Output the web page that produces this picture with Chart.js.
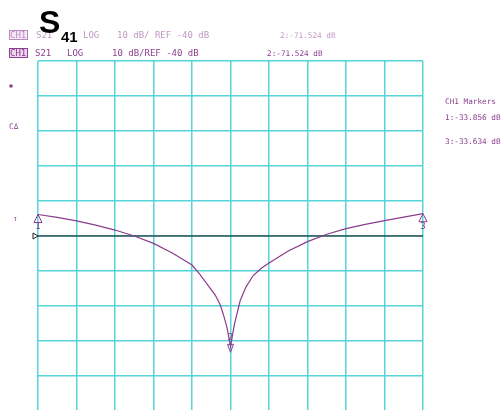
<!DOCTYPE html>
<html>
<head>
<meta charset="utf-8">
<script src="https://cdn.jsdelivr.net/npm/chart.js@4/dist/chart.umd.min.js"></script>
<style>
  html, body { margin: 0; padding: 0; background: #fff; overflow: hidden; }
  canvas { display: block; }
</style>
</head>
<body>
<canvas id="s41" width="501" height="420"></canvas>
<script>
// trace S21, 10 dB/div, REF -40 dB, x in graticule divisions
const sweepDiv = [0, 0.5, 1, 1.5, 2, 2.5, 3, 3.5, 4, 4.2, 4.45, 4.6, 4.73, 4.82, 4.91, 5, 5.1, 5.25, 5.4, 5.59, 5.8, 6, 6.5, 7, 7.5, 8, 8.5, 9, 9.5, 10];
const traceDb = [-33.86, -34.7, -35.7, -36.9, -38.3, -40.0, -42.1, -44.9, -48.3, -50.9, -54.6, -56.8, -59.6, -62.6, -66.2, -71.52, -65.3, -58.5, -54.6, -51.3, -49.2, -47.7, -44.3, -41.6, -39.5, -37.9, -36.7, -35.6, -34.6, -33.63];

const markerNums = ["1", "2", "3"];
const markerDiv = [0, 5, 10];
const markerDb = [-33.856, -71.524, -33.634];

const refLevel = -40;
const dbPerDiv = 10;
const yTop = 10;
const yBottom = -90;

const purple = "#8a3c8c";
const textPurple = "#8d3f8f";
const gridCyan = "#55d4da";

const ctx = document.getElementById("s41").getContext("2d");

// markers + annotation text
const analyzerText = {
    id: "analyzerText",
    afterDatasetsDraw(chart) {
        const c = chart.ctx;
        const xs = chart.scales.x, ys = chart.scales.y;
        c.save();
        c.strokeStyle = purple;
        c.fillStyle = purple;
        c.lineWidth = 1;
        c.font = "9px 'DejaVu Sans Mono'";
        c.textAlign = "center";
        c.textBaseline = "top";
        markerDiv.forEach((d, i) => {
            const px = xs.getPixelForValue(d);
            const py = ys.getPixelForValue(markerDb[i]);
            c.beginPath();
            if (i === 1) {
                // centre marker points down below the notch
                c.moveTo(px - 3, py - 2);
                c.lineTo(px + 3, py - 2);
                c.lineTo(px, py + 6);
            } else {
                c.moveTo(px, py);
                c.lineTo(px - 4, py + 8);
                c.lineTo(px + 4, py + 8);
            }
            c.closePath();
            c.stroke();
            c.fillText(markerNums[i], px, i === 1 ? py - 13 : py + 8);
        });
        // reference position marker
        const ry = ys.getPixelForValue(refLevel);
        const lx = xs.getPixelForValue(0);
        c.strokeStyle = "#222";
        c.beginPath();
        c.moveTo(lx - 5, ry - 3);
        c.lineTo(lx - 5, ry + 3);
        c.lineTo(lx, ry);
        c.closePath();
        c.stroke();
        c.restore();
    },
    afterDraw(chart) {
        const c = chart.ctx;
        c.save();
        c.textAlign = "left";
        c.textBaseline = "alphabetic";
        const mono9 = "9px 'DejaVu Sans Mono'";
        const mono8 = "7.7px 'DejaVu Sans Mono'";
        c.font = mono9;

        const chBox = (x, y, alpha) => {
            c.globalAlpha = alpha;
            c.fillStyle = "#ecd4ec";
            c.fillRect(x, y - 8, 19, 10);
            c.strokeStyle = textPurple;
            c.strokeRect(x + 0.5, y - 7.5, 18, 9);
            c.fillStyle = textPurple;
            c.fillText("CH1", x + 1, y);
        };
        // faded upper header
        chBox(9, 38, 0.55);
        c.fillText("S21", 36, 38);
        c.fillText("LOG", 83, 38);
        c.fillText("10 dB/ REF -40 dB", 117, 38);
        c.font = mono8;
        c.fillText("2:-71.524 dB", 280, 38);
        c.globalAlpha = 1;
        // header
        c.font = mono9;
        chBox(9, 56, 1);
        c.fillText("S21", 35, 56);
        c.fillText("LOG", 67, 56);
        c.fillText("10 dB/REF -40 dB", 112, 56);
        c.font = mono8;
        c.fillText("2:-71.524 dB", 267, 56);
        // left annotations
        c.beginPath();
        c.arc(11, 86, 1.8, 0, Math.PI * 2);
        c.fill();
        c.fillText("C\u0394", 9, 129);
        c.fillText("\u2191", 13, 221);
        // right marker readout
        c.fillText("CH1 Markers", 445, 104);
        c.fillText("1:" + markerDb[0].toFixed(3) + " dB", 445, 120);
        c.fillText("3:" + markerDb[2].toFixed(3) + " dB", 445, 144);
        // title
        c.fillStyle = "#000";
        c.font = "bold 32px 'Liberation Sans'";
        c.fillText("S", 39, 33);
        c.font = "bold 15px 'Liberation Sans'";
        c.fillText("41", 61, 42);
        c.restore();
    }
};

new Chart(ctx, {
    type: "line",
    data: {
        datasets: [
            {
                data: sweepDiv.map((d, i) => ({ x: d, y: traceDb[i] })),
                borderColor: purple,
                borderWidth: 1.2,
                pointRadius: 0,
                tension: 0,
            },
            {
                data: [{ x: 0, y: refLevel }, { x: 10, y: refLevel }],
                borderColor: "#111",
                borderWidth: 1.2,
                pointRadius: 0,
            },
        ],
    },
    options: {
        responsive: false,
        animation: false,
        layout: {
            padding: { left: 38, right: 78, top: 61, bottom: 9 },
        },
        scales: {
            x: {
                type: "linear",
                min: 0,
                max: 10,
                ticks: { display: false, stepSize: 1 },
                grid: { color: gridCyan, lineWidth: 1.5, drawTicks: false },
                border: { display: false },
            },
            y: {
                type: "linear",
                min: yBottom,
                max: yTop,
                ticks: { display: false, stepSize: dbPerDiv },
                grid: { color: gridCyan, lineWidth: 1.5, drawTicks: false },
                border: { display: false },
            },
        },
        plugins: {
            legend: { display: false },
            tooltip: { enabled: false },
        },
    },
    plugins: [analyzerText],
});
</script>
</body>
</html>
